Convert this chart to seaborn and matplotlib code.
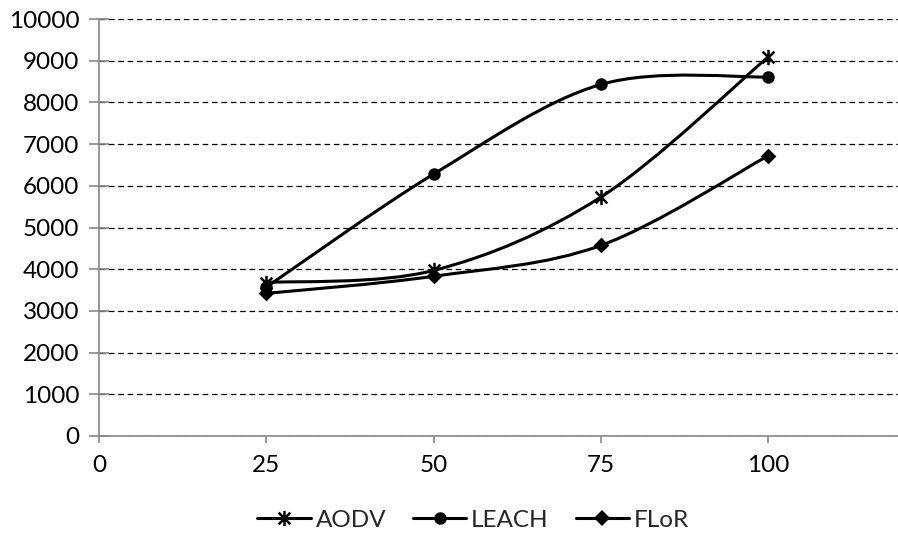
import numpy as np
import pandas as pd
import seaborn as sns
import matplotlib.pyplot as plt
from matplotlib.path import Path
from matplotlib.patches import PathPatch
from matplotlib.lines import Line2D

# --- data ---
nodes = [25, 50, 75, 100]
aodv = [3680, 3970, 5730, 9090]
leach = [3570, 6280, 8430, 8610]
flor = [3420, 3830, 4570, 6720]
series_names = ["AODV", "LEACH", "FLoR"]

df = pd.DataFrame({
    "nodes": nodes * 3,
    "value": aodv + leach + flor,
    "protocol": sum([[n] * len(nodes) for n in series_names], []),
})

# asterisk marker like Excel's "star": X plus a vertical bar
star = Path(
    [(-1, -1), (1, 1), (-1, 1), (1, -1), (0, -1.3), (0, 1.3)],
    [Path.MOVETO, Path.LINETO, Path.MOVETO, Path.LINETO, Path.MOVETO, Path.LINETO],
)
marker_map = {"AODV": star, "LEACH": "o", "FLoR": "D"}
size_map = {"AODV": 11, "LEACH": 9, "FLoR": 8}


def smooth_path(xs, ys):
    # Excel-style smoothed line: Catmull-Rom segments as cubic Beziers
    pts = np.column_stack([xs, ys]).astype(float)
    ext = np.vstack([pts[0], pts, pts[-1]])
    verts = [tuple(pts[0])]
    codes = [Path.MOVETO]
    for i in range(1, len(ext) - 2):
        p0, p1, p2, p3 = ext[i - 1], ext[i], ext[i + 1], ext[i + 2]
        c1 = p1 + (p2 - p0) / 6.0
        c2 = p2 - (p3 - p1) / 6.0
        verts += [tuple(c1), tuple(c2), tuple(p2)]
        codes += [Path.CURVE4] * 3
    return Path(verts, codes)


sns.set_theme(style="white")
plt.rcParams['font.family'] = ['Lato', 'DejaVu Sans']

fig = plt.figure(figsize=(8.98, 5.41), dpi=100)
ax = fig.add_axes([99 / 898, 105 / 541, 803 / 898, 417 / 541])

for name in series_names:
    sub = df[df["protocol"] == name]
    patch = PathPatch(smooth_path(sub["nodes"], sub["value"]), fill=False,
                      edgecolor="black", lw=2.2, zorder=3)
    ax.add_patch(patch)
    sns.scatterplot(data=sub, x="nodes", y="value", ax=ax, color="black",
                    marker=marker_map[name], s=size_map[name] ** 2,
                    linewidth=1.8 if name == "AODV" else 0,
                    edgecolor="black", zorder=4, legend=False)

ax.set_xlim(0, 120)
ax.set_ylim(0, 10000)
ax.set_xticks([0, 25, 50, 75, 100])
ax.set_yticks(np.arange(0, 10001, 1000))
ax.set_xlabel("")
ax.set_ylabel("")

ax.yaxis.grid(True, color="black", linestyle=(0, (4.5, 3)), lw=0.9)
ax.xaxis.grid(False)
ax.set_axisbelow(True)

for side in ["top", "right"]:
    ax.spines[side].set_visible(False)
for side in ["left", "bottom"]:
    ax.spines[side].set_color("#868686")
    ax.spines[side].set_linewidth(1.2)

ax.tick_params(axis="y", direction="inout", length=14, width=1.2, color="#868686",
               labelsize=17.5, pad=7, labelcolor="black")
ax.tick_params(axis="x", direction="out", length=5, width=1.2, color="#868686",
               labelsize=17.5, pad=9, labelcolor="black")
ax.tick_params(left=True, bottom=True)

handles = [
    Line2D([], [], color="black", lw=2.2, marker=marker_map[n],
           markersize=size_map[n], markeredgewidth=1.8 if n == "AODV" else 0)
    for n in series_names
]
fig.legend(handles, series_names, loc="center", bbox_to_anchor=(0.527, 0.038),
           ncol=3, frameon=False, fontsize=17.5, handlelength=2.2,
           handletextpad=0.2, columnspacing=1.1)

fig.savefig("out.png", dpi=100)
